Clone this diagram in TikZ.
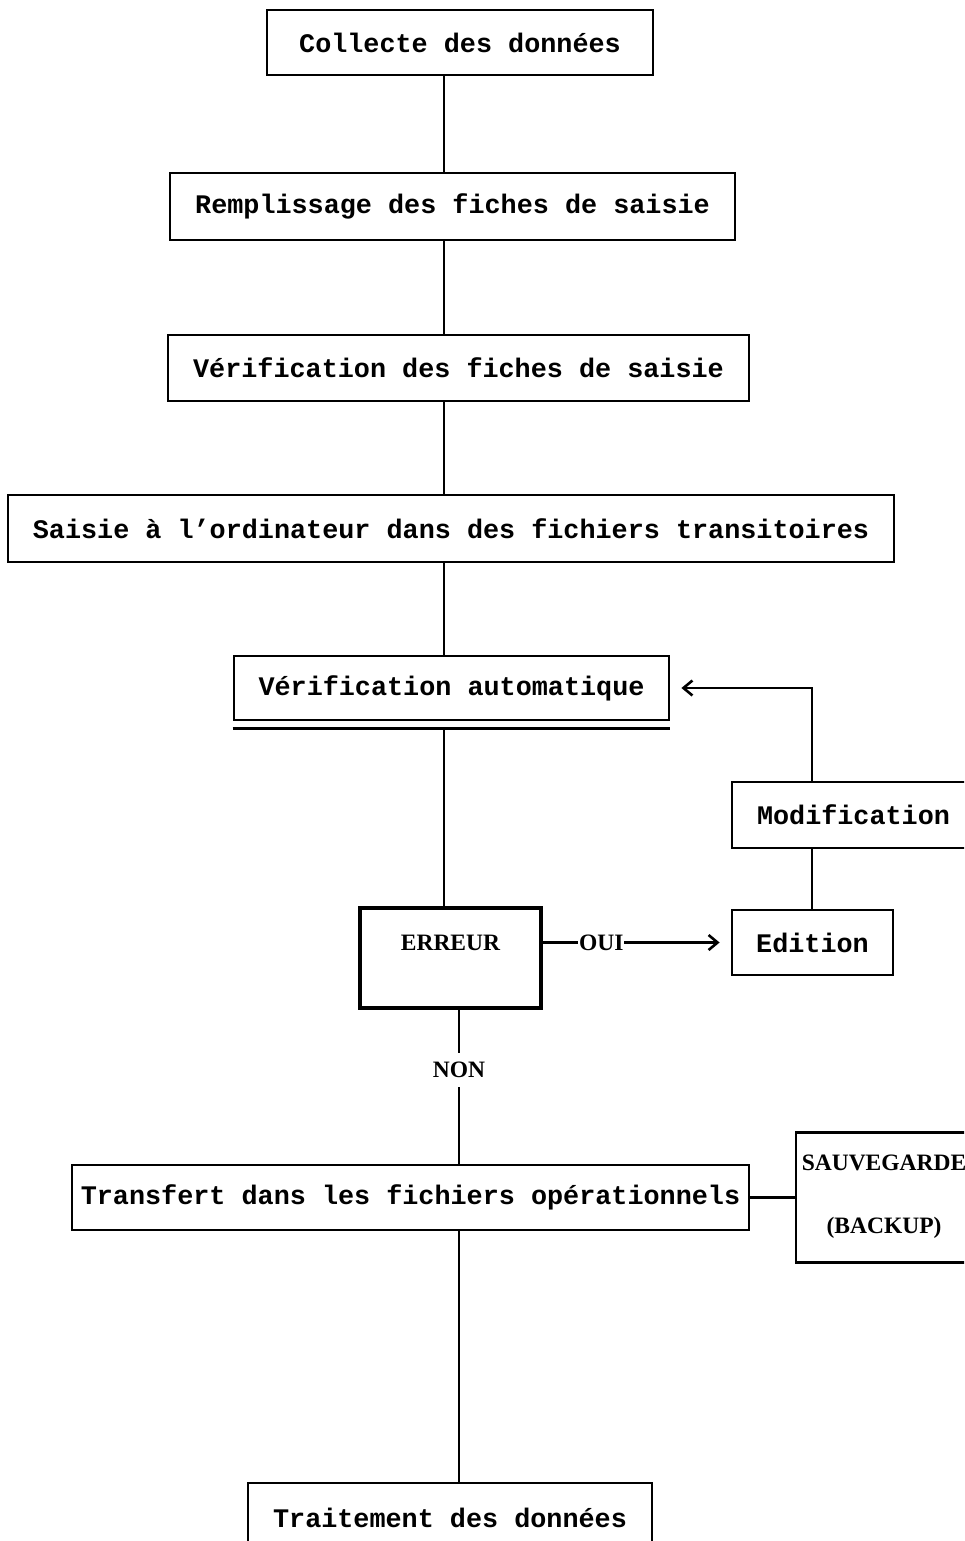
\documentclass[tikz,border=0pt]{standalone}
\usepackage{fontspec}
\usetikzlibrary{arrows.meta}
\newfontfamily\boxfont{Liberation Mono}
\newfontfamily\lblfont{Liberation Serif}
\tikzset{
  box/.style={draw, line width=2.8pt, inner sep=0pt, font=\boxfont\bfseries\fontsize{26.8}{30}\selectfont},
  lbl/.style={font=\lblfont\bfseries\fontsize{23.5}{28}\selectfont, inner sep=1pt},
  conn/.style={line width=2.8pt},
  arr/.style={conn, -{Straight Barb[length=9pt,width=15pt,line width=2.6pt]}, shorten >=11pt}
}
\begin{document}
\begin{tikzpicture}[x=1pt,y=-1pt]
\useasboundingbox (0,0) rectangle (964,1541);
\clip (0,0) rectangle (964,1541);
\coordinate (colA) at (444,0);
\coordinate (colB) at (459,0);
\coordinate (colC) at (812,0);

\node[box, minimum width=386, minimum height=65] (collecte) at (460,42.5) {Collecte des données};
\node[box, minimum width=565, minimum height=67] (rempl) at (452.5,206.5) {Remplissage des fiches de saisie};
\node[box, minimum width=581, minimum height=66] (verif) at (458.5,368) {Vérification des fiches de saisie};
\node[box, minimum width=886, minimum height=67] (saisie) at (451,528.5) {Saisie à l’ordinateur dans des fichiers transitoires};
\node[box, minimum width=435, minimum height=64] (auto) at (451.5,688) {Vérification automatique};
\draw[conn] ([yshift=-7pt]auto.south west) -- ([yshift=-7pt]auto.south east);
\node[box, minimum width=243, minimum height=66] (modif) at (853.5,815) {Modification};
\node[box, line width=4.2pt, minimum width=181, minimum height=100] (erreur) at (450.5,958) {};
\node[lbl] (erreurtxt) at ([yshift=15pt]erreur.center) {ERREUR};
\node[box, minimum width=161, minimum height=65] (edition) at (812.5,942.5) {Edition};
\node[box, minimum width=677, minimum height=65] (transfert) at (410.5,1197.5) {Transfert dans les fichiers opérationnels};
\node[draw, line width=2.8pt, minimum width=179, minimum height=130] (sauve) at (885.5,1197.5) {};
\node[lbl] (sauve1) at (884,1163) {SAUVEGARDE};
\node[lbl] (sauve2) at (884,1228) {(BACKUP)};
\node[box, minimum width=404, minimum height=70] (trait) at (450,1518) {Traitement des données};

\draw[conn] (collecte.south -| colA) -- (rempl.north -| colA);
\draw[conn] (rempl.south -| colA) -- (verif.north -| colA);
\draw[conn] (verif.south -| colA) -- (saisie.north -| colA);
\draw[conn] (saisie.south -| colA) -- (auto.north -| colA);
\draw[conn] ([yshift=-7pt]auto.south -| colA) -- (erreur.north -| colA);
\draw[conn] (erreur.south -| colB) -- node[pos=0.39, lbl, fill=white, inner ysep=9pt] (non) {NON} (transfert.north -| colB);
\draw[conn] (transfert.south -| colB) -- (trait.north -| colB);
\draw[arr] (erreur.east |- edition.west) -- node[pos=0.31, lbl, fill=white] (oui) {OUI} (edition.west);
\draw[conn] (edition.north -| colC) -- (modif.south -| colC);
\draw[arr] (modif.north -| colC) |- (auto.east);
\draw[conn] (transfert.east) -- (sauve.west);
\end{tikzpicture}
\end{document}
